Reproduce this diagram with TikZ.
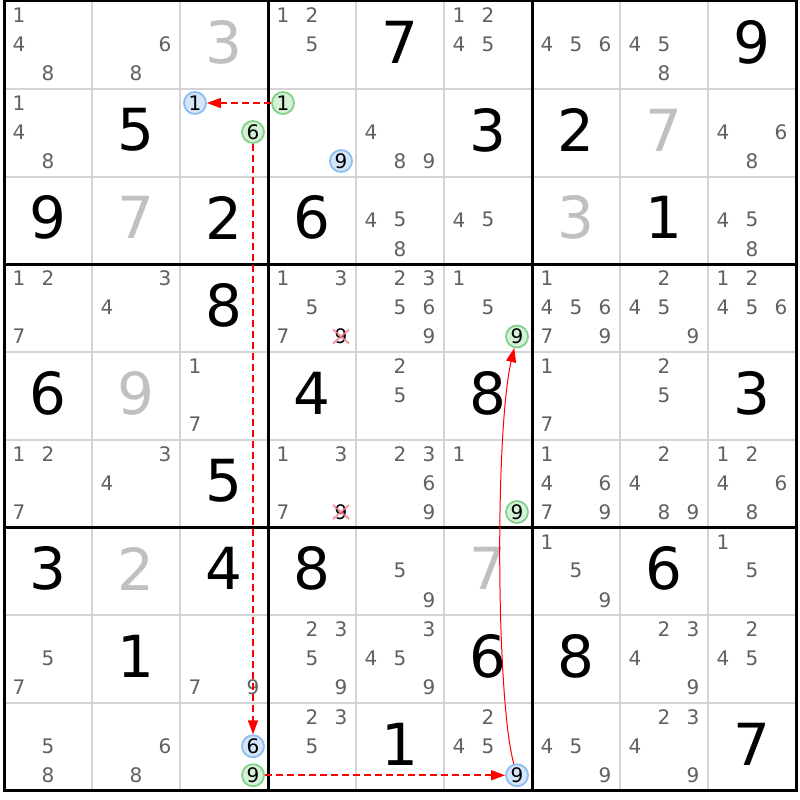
\documentclass[tikz,border=0pt]{standalone}
\usepackage{fontspec}
\setmainfont{DejaVu Sans}
\usetikzlibrary{arrows.meta}

\definecolor{candgray}{RGB}{96,96,96}
\definecolor{solvedgray}{RGB}{192,192,192}
\definecolor{gridgray}{RGB}{212,212,212}
\definecolor{markblue}{RGB}{140,190,240}
\definecolor{markbluefill}{RGB}{214,230,250}
\definecolor{markgreen}{RGB}{130,210,140}
\definecolor{markgreenfill}{RGB}{214,242,214}
\definecolor{crosspink}{RGB}{240,130,140}

\tikzset{
	cand/.style={font=\fontsize{20}{20}\selectfont, text=candgray, inner sep=0pt},
	given/.style={font=\fontsize{58}{58}\selectfont, inner sep=0pt},
	solved/.style={given, text=solvedgray},
	bluemark/.style={cand, text=black, circle, draw=markblue, fill=markbluefill, line width=1.8pt, minimum size=22pt},
	greenmark/.style={bluemark, draw=markgreen, fill=markgreenfill},
	elim/.style={cand, text=black},
	chain/.style={red, line width=1.6pt, dash pattern=on 7pt off 4pt, -{Triangle[length=14pt,width=10pt]}},
	link/.style={red, line width=1pt, -{Triangle[length=14pt,width=10pt]}},
}

% candidate k of cell (r,c)
\newcommand{\cand}[4][cand]{%
	\pgfmathsetmacro{\candx}{88*#3-40+29*(mod(#4-1,3)-1)}
	\pgfmathsetmacro{\candy}{87.75*#2-43.5+29*(int((#4-1)/3)-1)}
	\node[#1] (c#2#3-#4) at (\candx,\candy) {#4};
}
\newcommand{\cands}[3]{\foreach \k in {#3} {\cand{#1}{#2}{\k}}}
\newcommand{\given}[4][given]{\node[#1] (g#2#3) at ({88*#3-40},{87.75*#2-45.5}) {#4};}

\begin{document}
\begin{tikzpicture}[x=1pt,y=-1pt]
			\useasboundingbox[fill=white] (0,0) rectangle (800,800);
			% grid
			\foreach \i in {1,2,4,5,7,8} {
				\draw[gridgray, line width=2pt] ({4+88*\i},1) -- ({4+88*\i},790.75);
				\draw[gridgray, line width=2pt] (4,{1+87.75*\i}) -- (796,{1+87.75*\i});
			}
			\foreach \i in {0,3,6,9} {
				\draw[black, line width=3pt, line cap=rect] ({4+88*\i},1) -- ({4+88*\i},790.75);
				\draw[black, line width=3pt, line cap=rect] (4,{1+87.75*\i}) -- (796,{1+87.75*\i});
			}
			% row 1
			\cands{1}{1}{1,4,8} \cands{1}{2}{6,8} \given[solved]{1}{3}{3}
			\cands{1}{4}{1,2,5} \given{1}{5}{7} \cands{1}{6}{1,2,4,5}
			\cands{1}{7}{4,5,6} \cands{1}{8}{4,5,8} \given{1}{9}{9}
			% row 2
			\cands{2}{1}{1,4,8} \given{2}{2}{5} \cand[bluemark]{2}{3}{1} \cand[greenmark]{2}{3}{6}
			\cand[greenmark]{2}{4}{1} \cand[bluemark]{2}{4}{9} \cands{2}{5}{4,8,9} \given{2}{6}{3}
			\given{2}{7}{2} \given[solved]{2}{8}{7} \cands{2}{9}{4,6,8}
			% row 3
			\given{3}{1}{9} \given[solved]{3}{2}{7} \given{3}{3}{2}
			\given{3}{4}{6} \cands{3}{5}{4,5,8} \cands{3}{6}{4,5}
			\given[solved]{3}{7}{3} \given{3}{8}{1} \cands{3}{9}{4,5,8}
			% row 4
			\cands{4}{1}{1,2,7} \cands{4}{2}{3,4} \given{4}{3}{8}
			\cands{4}{4}{1,3,5,7} \cand[elim]{4}{4}{9} \cands{4}{5}{2,3,5,6,9} \cands{4}{6}{1,5} \cand[greenmark]{4}{6}{9}
			\cands{4}{7}{1,4,5,6,7,9} \cands{4}{8}{2,4,5,9} \cands{4}{9}{1,2,4,5,6}
			% row 5
			\given{5}{1}{6} \given[solved]{5}{2}{9} \cands{5}{3}{1,7}
			\given{5}{4}{4} \cands{5}{5}{2,5} \given{5}{6}{8}
			\cands{5}{7}{1,7} \cands{5}{8}{2,5} \given{5}{9}{3}
			% row 6
			\cands{6}{1}{1,2,7} \cands{6}{2}{3,4} \given{6}{3}{5}
			\cands{6}{4}{1,3,7} \cand[elim]{6}{4}{9} \cands{6}{5}{2,3,6,9} \cands{6}{6}{1} \cand[greenmark]{6}{6}{9}
			\cands{6}{7}{1,4,6,7,9} \cands{6}{8}{2,4,8,9} \cands{6}{9}{1,2,4,6,8}
			% row 7
			\given{7}{1}{3} \given[solved]{7}{2}{2} \given{7}{3}{4}
			\given{7}{4}{8} \cands{7}{5}{5,9} \given[solved]{7}{6}{7}
			\cands{7}{7}{1,5,9} \given{7}{8}{6} \cands{7}{9}{1,5}
			% row 8
			\cands{8}{1}{5,7} \given{8}{2}{1} \cands{8}{3}{7,9}
			\cands{8}{4}{2,3,5,9} \cands{8}{5}{3,4,5,9} \given{8}{6}{6}
			\given{8}{7}{8} \cands{8}{8}{2,3,4,9} \cands{8}{9}{2,4,5}
			% row 9
			\cands{9}{1}{5,8} \cands{9}{2}{6,8} \cand[bluemark]{9}{3}{6} \cand[greenmark]{9}{3}{9}
			\cands{9}{4}{2,3,5} \given{9}{5}{1} \cands{9}{6}{2,4,5} \cand[bluemark]{9}{6}{9}
			\cands{9}{7}{4,5,9} \cands{9}{8}{2,3,4,9} \given{9}{9}{7}
			% eliminations
			\foreach \e in {c44-9,c64-9} {
				\draw[crosspink, line width=2pt, opacity=0.8] ([shift={(-8,-7)}]\e.center) -- ([shift={(8,7)}]\e.center)
					([shift={(-8,7)}]\e.center) -- ([shift={(8,-7)}]\e.center);
			}
			% chain
			\draw[chain] (c24-1) -- (c23-1);
			\draw[chain] (c23-6) -- (c93-6);
			\draw[chain] (c93-9) -- (c96-9);
			\draw[link] (c96-9) .. controls (496,700) and (495,430) .. (c46-9);
\end{tikzpicture}
\end{document}
